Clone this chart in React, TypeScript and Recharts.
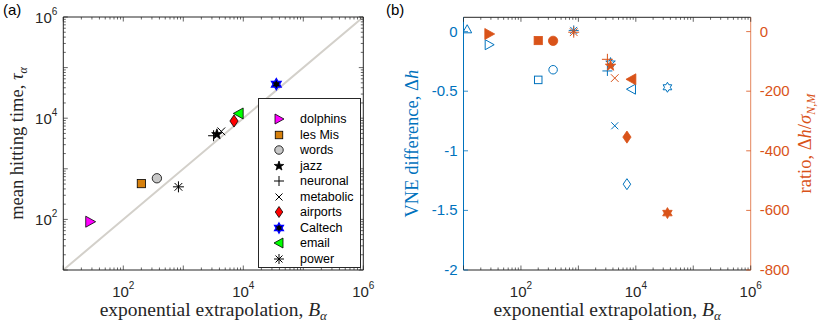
import { Label, Legend, ReferenceLine, Scatter, ScatterChart, XAxis, YAxis } from "recharts";

// per-network values
const networks = ["dolphins", "les Mis", "words", "jazz", "neuronal", "metabolic", "airports", "Caltech", "email", "power"];
const extrapolation = [28, 200, 363, 3630, 3200, 4300, 7000, 35500, 8400, 830];
const hittingTime = [90, 510, 650, 4800, 4500, 5500, 8800, 47000, 12400, 440];
const vneDifference = [-0.11, -0.405, -0.32, -0.26, -0.33, -0.79, -1.28, -0.467, -0.483, 0.01];
const ratio = [-8, -30, -31, -115, -93, -156, -354, -609, -160, -2];

// open triangle at the far left of panel (b), not in the legend
const unlabeledExtrapolation = [11.6];
const unlabeledVne = [0.02];

const decadeTicks = [10, 100, 1e3, 1e4, 1e5, 1e6];
const labelledDecades = [100, 1e4, 1e6];
const vneTicks = [0, -0.5, -1, -1.5, -2];
const ratioTicks = [0, -200, -400, -600, -800];

const logTicks: number[] = [];
for (const d of decadeTicks) {
  logTicks.push(d);
  if (d < 1e6) for (let k = 2; k <= 9; k++) logTicks.push(d * k);
}

const AXIS = "#262626";
const BLUE = "#0072BD";
const ORANGE = "#D95319";
const SANS = "'Liberation Sans', Arial, Helvetica, sans-serif";
const SERIF = "'Liberation Serif', 'Times New Roman', serif";

type Kind = "triR" | "triL" | "triU" | "square" | "circle" | "star" | "plus" | "cross" | "diamond" | "hex" | "aster";

const markerStyle: Record<string, { kind: Kind; fill: string; stroke: string }> = {
  dolphins: { kind: "triR", fill: "#ff00ff", stroke: "#000" },
  "les Mis": { kind: "square", fill: "#d6800c", stroke: "#000" },
  words: { kind: "circle", fill: "#c8c8c8", stroke: "#000" },
  jazz: { kind: "star", fill: "#000", stroke: "#000" },
  neuronal: { kind: "plus", fill: "none", stroke: "#000" },
  metabolic: { kind: "cross", fill: "none", stroke: "#000" },
  airports: { kind: "diamond", fill: "#ff0000", stroke: "#000" },
  Caltech: { kind: "hex", fill: "#000", stroke: "#0000ff" },
  email: { kind: "triL", fill: "#00ff00", stroke: "#000" },
  power: { kind: "aster", fill: "none", stroke: "#000" },
};

function starPoints(n: number, outer: number, inner: number) {
  const pts: [number, number][] = [];
  for (let i = 0; i < 2 * n; i++) {
    const a = -Math.PI / 2 + (i * Math.PI) / n;
    const rr = i % 2 === 0 ? outer : inner;
    pts.push([rr * Math.cos(a), rr * Math.sin(a)]);
  }
  return pts;
}

function poly(cx: number, cy: number, pts: [number, number][]) {
  return pts.map(([dx, dy]) => `${cx + dx},${cy + dy}`).join(" ");
}

interface MarkProps {
  kind: Kind;
  cx: number;
  cy: number;
  r: number;
  fill: string;
  stroke: string;
  sw?: number;
}

function Mark({ kind, cx, cy, r, fill, stroke, sw = 0.8 }: MarkProps) {
  const common = { fill, stroke, strokeWidth: sw };
  switch (kind) {
    case "triR":
      return <polygon points={poly(cx, cy, [[-r * 0.8, -r], [r, 0], [-r * 0.8, r]])} {...common} />;
    case "triL":
      return <polygon points={poly(cx, cy, [[r * 0.8, -r], [-r, 0], [r * 0.8, r]])} {...common} />;
    case "triU":
      return <polygon points={poly(cx, cy, [[-r, r * 0.8], [0, -r], [r, r * 0.8]])} {...common} />;
    case "square":
      return <rect x={cx - r * 0.75} y={cy - r * 0.75} width={r * 1.5} height={r * 1.5} {...common} />;
    case "circle":
      return <circle cx={cx} cy={cy} r={r * 0.85} {...common} />;
    case "diamond":
      return <polygon points={poly(cx, cy, [[0, -r * 1.1], [r * 0.75, 0], [0, r * 1.1], [-r * 0.75, 0]])} {...common} />;
    case "star":
      return <polygon points={poly(cx, cy, starPoints(5, r, r * 0.4))} {...common} />;
    case "hex":
      return <polygon points={poly(cx, cy, starPoints(6, r, r * 0.58))} {...common} />;
    case "plus":
      return (
        <g stroke={stroke} strokeWidth={1}>
          <line x1={cx - r} y1={cy} x2={cx + r} y2={cy} />
          <line x1={cx} y1={cy - r} x2={cx} y2={cy + r} />
        </g>
      );
    case "cross": {
      const d = r * 0.7;
      return (
        <g stroke={stroke} strokeWidth={1}>
          <line x1={cx - d} y1={cy - d} x2={cx + d} y2={cy + d} />
          <line x1={cx - d} y1={cy + d} x2={cx + d} y2={cy - d} />
        </g>
      );
    }
    default: {
      const d = r * 0.7;
      return (
        <g stroke={stroke} strokeWidth={1}>
          <line x1={cx - r} y1={cy} x2={cx + r} y2={cy} />
          <line x1={cx} y1={cy - r} x2={cx} y2={cy + r} />
          <line x1={cx - d} y1={cy - d} x2={cx + d} y2={cy + d} />
          <line x1={cx - d} y1={cy + d} x2={cx + d} y2={cy - d} />
        </g>
      );
    }
  }
}

function isDecade(v: number) {
  const e = Math.log10(v);
  return Math.abs(e - Math.round(e)) < 1e-6;
}

function Pow10({ x, y, exp, anchor }: { x: number; y: number; exp: number; anchor: "middle" | "end" }) {
  return (
    <text x={x} y={y} textAnchor={anchor} fontFamily={SANS} fontSize={15} fill={AXIS}>
      <tspan>10</tspan>
      <tspan fontSize={10} dy={-8}>
        {exp}
      </tspan>
    </text>
  );
}

// axes are 1px thick, so ticks are drawn from the plot edge
function makeLogTick(side: "bottom" | "top" | "left" | "right", labels: boolean) {
  return (props: any) => {
    const { x, y, payload } = props;
    const v = Number(payload.value);
    const len = isDecade(v) ? 4.5 : 2.5;
    const show = labels && labelledDecades.some((d) => Math.abs(d - v) < 1e-6 * d);
    const exp = Math.round(Math.log10(v));
    if (side === "bottom")
      return (
        <g>
          <line x1={x} y1={y} x2={x} y2={y - len} stroke={AXIS} strokeWidth={0.7} />
          {show && <Pow10 x={x} y={y + 27} exp={exp} anchor="middle" />}
        </g>
      );
    if (side === "top") return <line x1={x} y1={y} x2={x} y2={y + len} stroke={AXIS} strokeWidth={0.7} />;
    if (side === "left")
      return (
        <g>
          <line x1={x} y1={y} x2={x + len} y2={y} stroke={AXIS} strokeWidth={0.7} />
          {show && <Pow10 x={x - 6} y={y + 6} exp={exp} anchor="end" />}
        </g>
      );
    return <line x1={x} y1={y} x2={x - len} y2={y} stroke={AXIS} strokeWidth={0.7} />;
  };
}

function makeLinTick(side: "left" | "right", color: string) {
  return (props: any) => {
    const { x, y, payload } = props;
    const dir = side === "left" ? 1 : -1;
    return (
      <g>
        <line x1={x} y1={y} x2={x + dir * 4.5} y2={y} stroke={color} strokeWidth={0.8} />
        <text
          x={side === "left" ? x - 6 : x + 9}
          y={y + 5}
          textAnchor={side === "left" ? "end" : "start"}
          fontFamily={SANS}
          fontSize={15}
          fill={color}
        >
          {String(payload.value)}
        </text>
      </g>
    );
  };
}

const xTitle = (props: any) => {
  const { x, y, width } = props.viewBox;
  return (
    <text x={x + width / 2} y={y + 46} textAnchor="middle" fontFamily={SERIF} fontSize={19.5} fill={AXIS}>
      exponential extrapolation, <tspan fontStyle="italic">B</tspan>
      <tspan fontStyle="italic" fontSize={13} dy={4}>
        α
      </tspan>
    </text>
  );
};

function yTitle(offset: number, color: string, kind: "tau" | "vne" | "ratio") {
  return (props: any) => {
    const { x, y, height } = props.viewBox;
    const bx = x + offset;
    const cy = y + height / 2;
    return (
      <text
        x={bx}
        y={cy}
        transform={`rotate(-90, ${bx}, ${cy})`}
        textAnchor="middle"
        fontFamily={SERIF}
        fontSize={18.5}
        fill={color}
      >
        {kind === "tau" && (
          <>
            mean hitting time, <tspan fontStyle="italic">τ</tspan>
            <tspan fontStyle="italic" fontSize={12} dy={4}>
              α
            </tspan>
          </>
        )}
        {kind === "vne" && (
          <>
            VNE difference, Δ<tspan fontStyle="italic">h</tspan>
          </>
        )}
        {kind === "ratio" && (
          <>
            ratio, Δ<tspan fontStyle="italic">h</tspan>/<tspan fontStyle="italic">σ</tspan>
            <tspan fontStyle="italic" fontSize={12} dy={4}>
              N,M
            </tspan>
          </>
        )}
      </text>
    );
  };
}

function LegendBox() {
  return (
    <div
      style={{
        position: "relative",
        width: 103,
        height: 170,
        boxSizing: "border-box",
        border: `1px solid ${AXIS}`,
        background: "#fff",
        fontFamily: SANS,
        fontSize: 12.5,
        color: "#000",
      }}
    >
      {networks.map((name, i) => {
        const s = markerStyle[name];
        return (
          <div key={name} style={{ position: "absolute", left: 0, top: 12 + i * 15.55, height: 16, width: 101 }}>
            <svg width={16} height={16} style={{ position: "absolute", left: 12, top: 0 }}>
              <Mark kind={s.kind} cx={8} cy={8} r={5} fill={s.fill} stroke={s.stroke} sw={s.kind === "hex" ? 1.4 : 0.8} />
            </svg>
            <span style={{ position: "absolute", left: 41, top: 0, lineHeight: "16px" }}>{name}</span>
          </div>
        );
      })}
    </div>
  );
}

const hidden = () => <g />;

const logAxis = {
  dataKey: "x",
  type: "number" as const,
  scale: "log" as const,
  domain: [10, 1e6],
  allowDataOverflow: true,
  ticks: logTicks,
  interval: 0,
  tickSize: 0,
  tickMargin: 0,
  tickLine: false,
};

export default function App() {
  return (
    <div style={{ position: "absolute", left: 0, top: 0, width: 830, height: 326, background: "#fff" }}>
      <div style={{ position: "absolute", left: 3, top: 1, fontFamily: SANS, fontSize: 15, color: "#000" }}>(a)</div>
      <div style={{ position: "absolute", left: 386, top: 1, fontFamily: SANS, fontSize: 15, color: "#000" }}>(b)</div>

      <div style={{ position: "absolute", left: 0, top: 0 }}>
        <ScatterChart width={395} height={326} margin={{ top: 16, right: 30.7, bottom: 55, left: 62.3 }}>
          <XAxis xAxisId="b" {...logAxis} height={1} axisLine={{ stroke: AXIS }} tick={makeLogTick("bottom", true)}>
            <Label content={xTitle} />
          </XAxis>
          <XAxis
            xAxisId="t"
            orientation="top"
            {...logAxis}
            height={1}
            axisLine={{ stroke: AXIS }}
            tick={makeLogTick("top", false)}
          />
          <YAxis yAxisId="l" {...logAxis} dataKey="y" width={1} axisLine={{ stroke: AXIS }} tick={makeLogTick("left", true)}>
            <Label content={yTitle(-39.8, AXIS, "tau")} />
          </YAxis>
          <YAxis
            yAxisId="r"
            orientation="right"
            {...logAxis}
            dataKey="y"
            width={1}
            axisLine={{ stroke: AXIS }}
            tick={makeLogTick("right", false)}
          />
          <ReferenceLine
            xAxisId="b"
            yAxisId="l"
            segment={[
              { x: 10, y: 10 },
              { x: 1e6, y: 1e6 },
            ]}
            stroke="#d3d0ca"
            strokeWidth={2}
          />
          <Scatter xAxisId="t" yAxisId="r" data={[{ x: 100, y: 100 }]} shape={hidden} isAnimationActive={false} />
          {networks.map((name, i) => {
            const s = markerStyle[name];
            return (
              <Scatter
                key={name}
                name={name}
                xAxisId="b"
                yAxisId="l"
                data={[{ x: extrapolation[i], y: hittingTime[i] }]}
                isAnimationActive={false}
                shape={(p: any) => (
                  <Mark kind={s.kind} cx={p.cx} cy={p.cy} r={5.5} fill={s.fill} stroke={s.stroke} sw={s.kind === "hex" ? 1.4 : 0.8} />
                )}
              />
            );
          })}
          <Legend
            layout="vertical"
            align="center"
            verticalAlign="middle"
            wrapperStyle={{ left: 258, top: 98, width: 103, height: 170 }}
            content={() => <LegendBox />}
          />
        </ScatterChart>
      </div>

      <div style={{ position: "absolute", left: 395, top: 0 }}>
        <ScatterChart width={435} height={326} margin={{ top: 16.3, right: 78.3, bottom: 55, left: 67.5 }}>
          <XAxis xAxisId="b" {...logAxis} height={1} axisLine={{ stroke: AXIS }} tick={makeLogTick("bottom", true)}>
            <Label content={xTitle} />
          </XAxis>
          <XAxis
            xAxisId="t"
            orientation="top"
            {...logAxis}
            height={1}
            axisLine={{ stroke: AXIS }}
            tick={makeLogTick("top", false)}
          />
          <YAxis
            yAxisId="l"
            dataKey="y"
            type="number"
            domain={[-2, 0.12]}
            allowDataOverflow
            ticks={vneTicks}
            interval={0}
            width={1}
            tickSize={0}
            tickMargin={0}
            tickLine={false}
            axisLine={{ stroke: BLUE }}
            tick={makeLinTick("left", BLUE)}
          >
            <Label content={yTitle(-44, BLUE, "vne")} />
          </YAxis>
          <YAxis
            yAxisId="r"
            orientation="right"
            dataKey="y"
            type="number"
            domain={[-800, 48]}
            allowDataOverflow
            ticks={ratioTicks}
            interval={0}
            width={1}
            tickSize={0}
            tickMargin={0}
            tickLine={false}
            axisLine={{ stroke: ORANGE, strokeOpacity: 0.7 }}
            tick={makeLinTick("right", ORANGE)}
          >
            <Label content={yTitle(60.3, ORANGE, "ratio")} />
          </YAxis>
          <Scatter xAxisId="t" yAxisId="l" data={[{ x: 100, y: -1 }]} shape={hidden} isAnimationActive={false} />
          <Scatter
            xAxisId="b"
            yAxisId="l"
            data={unlabeledExtrapolation.map((x, i) => ({ x, y: unlabeledVne[i] }))}
            isAnimationActive={false}
            shape={(p: any) => <Mark kind="triU" cx={p.cx} cy={p.cy} r={4.5} fill="none" stroke={BLUE} sw={1} />}
          />
          {networks.map((name, i) => {
            const s = markerStyle[name];
            return (
              <Scatter
                key={`vne-${name}`}
                xAxisId="b"
                yAxisId="l"
                data={[{ x: extrapolation[i], y: vneDifference[i] }]}
                isAnimationActive={false}
                shape={(p: any) => <Mark kind={s.kind} cx={p.cx} cy={p.cy} r={5} fill="none" stroke={BLUE} sw={1} />}
              />
            );
          })}
          {networks.map((name, i) => {
            const s = markerStyle[name];
            return (
              <Scatter
                key={`ratio-${name}`}
                xAxisId="b"
                yAxisId="r"
                data={[{ x: extrapolation[i], y: ratio[i] }]}
                isAnimationActive={false}
                shape={(p: any) => <Mark kind={s.kind} cx={p.cx} cy={p.cy} r={5.5} fill={ORANGE} stroke={ORANGE} sw={0.8} />}
              />
            );
          })}
        </ScatterChart>
      </div>
    </div>
  );
}
